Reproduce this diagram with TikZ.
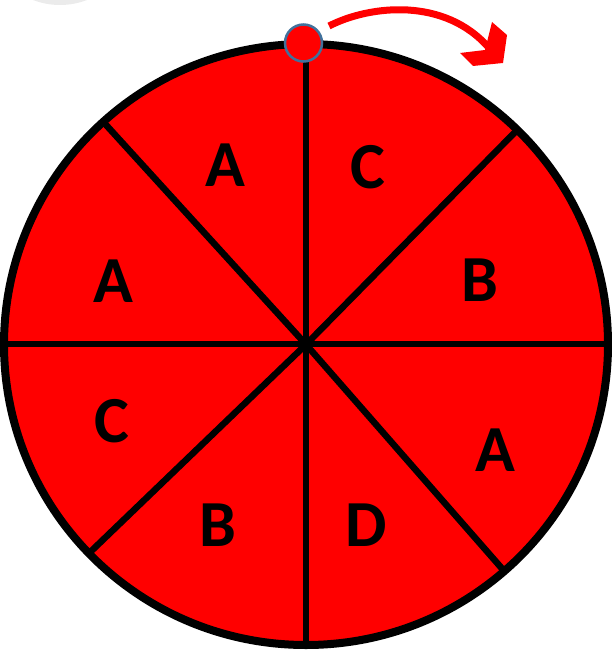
\documentclass[tikz,border=0pt]{standalone}
\usepackage{fontspec}
\setmainfont{Carlito}
\definecolor{wheelred}{HTML}{FF0000}
\definecolor{dotblue}{HTML}{41719C}
\definecolor{paleg}{HTML}{EBEBEB}
\tikzset{
  spoke/.style={draw=black, line width=6.5bp},
  rim/.style={draw=black, line width=8bp},
  lab/.style={font=\fontsize{66}{66}\selectfont\bfseries, text=black, inner sep=0pt, anchor=center},
}
\begin{document}
\begin{tikzpicture}[x=1bp,y=-1bp]
\useasboundingbox (0,0) rectangle (612,654);
\clip (0,0) rectangle (612,654);
% faint grey arc at top left
\fill[paleg] (60,-70) circle (75);
% wheel
\coordinate (c) at (306,344.5);
\fill[wheelred] (c) ellipse [x radius=302, y radius=300.5];
\begin{scope}
\clip (c) ellipse [x radius=302, y radius=300.5];
\draw[spoke] (306,30) -- (306,660);
\draw[spoke] (-5,344) -- (620,344);
\draw[spoke] (c) -- (97,115);
\draw[spoke] (c) -- (524,123);
\draw[spoke] (c) -- (83,559);
\draw[spoke] (c) -- (512,580);
\end{scope}
\draw[rim] (c) ellipse [x radius=302, y radius=300.5];
% labels
\node[lab] (l1) at (225,165) {A};
\node[lab] (l2) at (368,167) {C};
\node[lab] (l3) at (113,281) {A};
\node[lab] (l4) at (480,280) {B};
\node[lab] (l5) at (112,421) {C};
\node[lab] (l6) at (495,450) {A};
\node[lab] (l7) at (218,525) {B};
\node[lab] (l8) at (366,525) {D};
% marker dot
\node[circle, fill=wheelred, draw=dotblue, line width=2.5bp, minimum size=37bp, inner sep=0pt] (dot) at (303.5,43) {};
% curved arrow
\draw[wheelred, line width=7bp] (329,26) .. controls (370,5) and (445,-3) .. (489,48);
\fill[wheelred] (492,22) -- (507,35) -- (503,63) -- (473,66) -- (460,53) -- (485,50) -- cycle;
\end{tikzpicture}
\end{document}
